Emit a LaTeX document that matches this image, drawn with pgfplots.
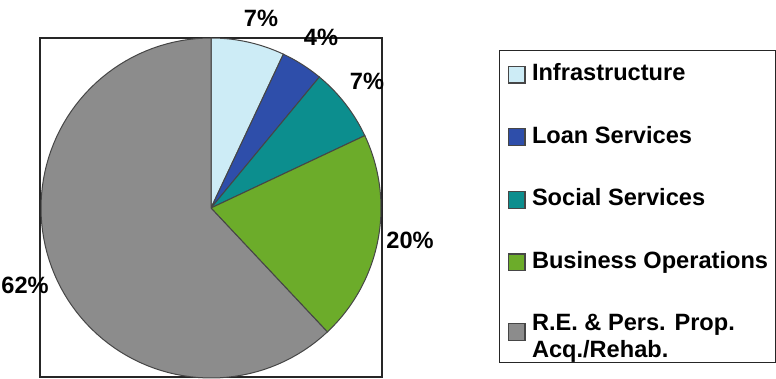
\documentclass[border=0pt]{standalone}
\usepackage{pgfplots}
\pgfplotsset{compat=1.18}
\usepackage{fontspec}
\setmainfont{Liberation Sans}
\definecolor{infra}{RGB}{205,236,246}
\definecolor{loan}{RGB}{46,78,170}
\definecolor{social}{RGB}{12,142,142}
\definecolor{biz}{RGB}{108,172,42}
\definecolor{reprop}{RGB}{140,140,140}
\definecolor{edgec}{RGB}{70,70,70}
\newcommand{\lblfont}{\bfseries\fontsize{11.8}{13.5}\selectfont}
% slice: cumulative share before it, share (percent), colour
\newcommand{\pieslice}[3]{%
  \addplot[draw=edgec, line width=0.5pt, fill=#3, samples=90, variable=\t,
    domain={90-3.6*(#1+#2)}:{90-3.6*(#1)}]
    ({211+170*cos(\t)}, {208-170*sin(\t)}) -- (axis cs:211,208) -- cycle;
}
\begin{document}
\begin{tikzpicture}
\begin{axis}[
  scale only axis, width=388pt, height=189.5pt,
  xmin=0, xmax=776, ymin=0, ymax=379, y dir=reverse,
  axis lines=none, clip=false,
  legend cell align=left,
  legend image code/.code={\draw[#1, draw=edgec, line width=0.6pt] (0pt,-4.2pt) rectangle (8.4pt,4.2pt);},
  legend style={at={(axis cs:499,50)}, anchor=north west, draw=black!85, line width=0.6pt,
    fill=white, font=\lblfont, row sep=20.3pt, inner xsep=4pt, inner ysep=6.5pt,
    nodes={inner sep=0pt, text height=8.5pt, text depth=2.5pt},
    /tikz/every odd column/.append style={column sep=3.2pt}},
]
\draw[black!85, line width=0.6pt] (axis cs:40,38) rectangle (axis cs:382,377);
\pieslice{0}{7}{infra}
\addlegendentry{Infrastructure}
\pieslice{7}{4}{loan}
\addlegendentry{Loan Services}
\pieslice{11}{7}{social}
\addlegendentry{Social Services}
\pieslice{18}{20}{biz}
\addlegendentry{Business Operations}
\pieslice{38}{62}{reprop}
\addlegendentry[text depth=9.3pt]{\begin{tabular}[t]{@{}l@{}}R.E. \& Pers. Prop.\\Acq./Rehab.\end{tabular}}
\node[font=\lblfont] at (axis cs:261,18) {7\%};
\node[font=\lblfont] at (axis cs:321,37) {4\%};
\node[font=\lblfont] at (axis cs:367,81) {7\%};
\node[font=\lblfont] at (axis cs:410,240) {20\%};
\node[font=\lblfont] at (axis cs:25,285) {62\%};
\end{axis}
\pgfresetboundingbox
\path (current axis.south west) rectangle (current axis.north east);
\end{tikzpicture}
\end{document}
